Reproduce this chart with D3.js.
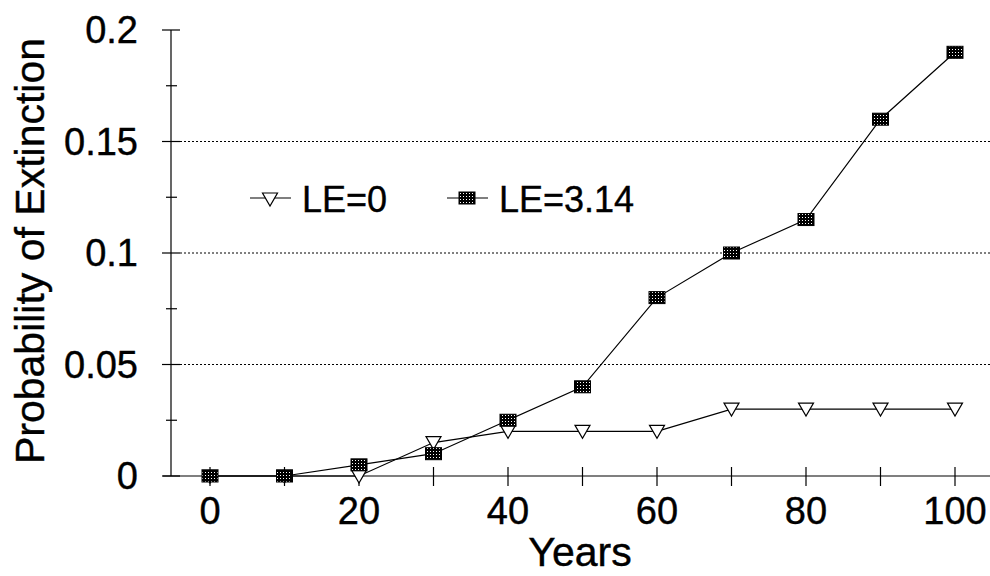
<!DOCTYPE html>
<html>
<head>
<meta charset="utf-8">
<title>Probability of Extinction</title>
<script src="https://cdn.jsdelivr.net/npm/d3@7"></script>
<style>
body { margin: 0; background: #fff; }
text { font-family: "Liberation Sans", Arial, sans-serif; fill: #000; stroke: #000; stroke-width: 0.4px; }
.grid { stroke: #000; stroke-width: 1; stroke-dasharray: 2,2; }
.axis { stroke: #000; stroke-width: 1.2; }
.series { fill: none; stroke: #000; stroke-width: 1.2; }
</style>
</head>
<body>
<div id="chart"></div>
<script>
var years = [0, 10, 20, 30, 40, 50, 60, 70, 80, 90, 100];
var le0 = [0, 0, 0, 0.015, 0.02, 0.02, 0.02, 0.03, 0.03, 0.03, 0.03];
var le314 = [0, 0, 0.005, 0.01, 0.025, 0.04, 0.08, 0.1, 0.115, 0.16, 0.19];
var yMajor = [0, 0.05, 0.1, 0.15, 0.2];
var yMinor = [0.025, 0.075, 0.125, 0.175];
var yLabels = ["0", "0.05", "0.1", "0.15", "0.2"];
var xTicks = [0, 10, 20, 30, 40, 50, 60, 70, 80, 90, 100];
var xLabels = [0, 20, 40, 60, 80, 100];

var width = 990, height = 576;
var svg = d3.select("#chart").append("svg")
	.attr("width", width).attr("height", height);

// checker pattern for the square markers
var defs = svg.append("defs");
var pat = defs.append("pattern").attr("id", "dots")
	.attr("patternUnits", "userSpaceOnUse").attr("width", 3).attr("height", 3);
pat.append("rect").attr("width", 3).attr("height", 3).attr("fill", "#000");
pat.append("rect").attr("x", 1).attr("y", 1).attr("width", 1).attr("height", 1).attr("fill", "#fff");

var x = d3.scaleLinear().domain([0, 100]).range([210, 955]);
var y = d3.scaleLinear().domain([0, 0.2]).range([476, 30]);
var axisX = 171;

// gridlines
svg.selectAll(".grid").data([0.05, 0.1, 0.15]).enter().append("line")
	.attr("class", "grid")
	.attr("x1", 180).attr("x2", 990)
	.attr("y1", function(d) { return y(d); }).attr("y2", function(d) { return y(d); });

// y axis
svg.append("line").attr("class", "axis")
	.attr("x1", axisX).attr("x2", axisX).attr("y1", y(0)).attr("y2", y(0.2));
svg.selectAll(".ymaj").data(yMajor).enter().append("line").attr("class", "axis")
	.attr("x1", 162).attr("x2", 180)
	.attr("y1", function(d) { return y(d); }).attr("y2", function(d) { return y(d); });
svg.selectAll(".ymin").data(yMinor).enter().append("line").attr("class", "axis")
	.attr("x1", 166).attr("x2", 177)
	.attr("y1", function(d) { return y(d); }).attr("y2", function(d) { return y(d); });
svg.selectAll(".ylab").data(yMajor).enter().append("text")
	.attr("x", 138).attr("y", function(d) { return y(d) + 13; })
	.attr("text-anchor", "end").style("font-size", "38px")
	.text(function(d, i) { return yLabels[i]; });

// x axis
svg.append("line").attr("class", "axis")
	.attr("x1", 163).attr("x2", 990).attr("y1", y(0)).attr("y2", y(0));
svg.selectAll(".xtick").data(xTicks).enter().append("line").attr("class", "axis")
	.attr("x1", function(d) { return x(d); }).attr("x2", function(d) { return x(d); })
	.attr("y1", 467).attr("y2", 486);
svg.selectAll(".xlab").data(xLabels).enter().append("text")
	.attr("x", function(d) { return x(d); }).attr("y", 524)
	.attr("text-anchor", "middle").style("font-size", "38px")
	.text(function(d) { return d; });

// axis titles
svg.append("text").attr("x", 580).attr("y", 566)
	.attr("text-anchor", "middle").style("font-size", "41px").text("Years");
svg.append("text")
	.attr("transform", "translate(44," + 251 + ") rotate(-90)")
	.attr("text-anchor", "middle").style("font-size", "41px")
	.text("Probability of Extinction");

var line = d3.line()
	.x(function(d, i) { return x(years[i]); })
	.y(function(d) { return y(d); });

function drawTri(g, cx, cy) {
	g.append("path").attr("d", "M-7.5,-6L7.5,-6L0,7Z")
		.attr("transform", "translate(" + cx + "," + cy + ")")
		.attr("fill", "#fff").attr("stroke", "#000").attr("stroke-width", 1.2);
}
function drawSq(g, cx, cy) {
	g.append("rect").attr("x", cx - 8).attr("y", cy - 6)
		.attr("width", 16).attr("height", 12)
		.attr("fill", "url(#dots)").attr("stroke", "#000").attr("stroke-width", 1);
}

// LE=0 series
svg.append("path").datum(le0).attr("class", "series").attr("d", line);
var g0 = svg.append("g");
le0.forEach(function(d, i) { drawTri(g0, x(years[i]), y(d)); });

// LE=3.14 series
svg.append("path").datum(le314).attr("class", "series").attr("d", line);
var g1 = svg.append("g");
le314.forEach(function(d, i) { drawSq(g1, x(years[i]), y(d)); });

// legend
var leg = svg.append("g");
leg.append("line").attr("class", "series").attr("x1", 250).attr("x2", 291).attr("y1", 198).attr("y2", 198);
drawTri(leg, 270, 199);
leg.append("text").attr("x", 302).attr("y", 212).style("font-size", "36px").text("LE=0");
leg.append("line").attr("class", "series").attr("x1", 447).attr("x2", 488).attr("y1", 198).attr("y2", 198);
drawSq(leg, 467, 198);
leg.append("text").attr("x", 499).attr("y", 212).style("font-size", "36px").text("LE=3.14");
</script>
</body>
</html>
